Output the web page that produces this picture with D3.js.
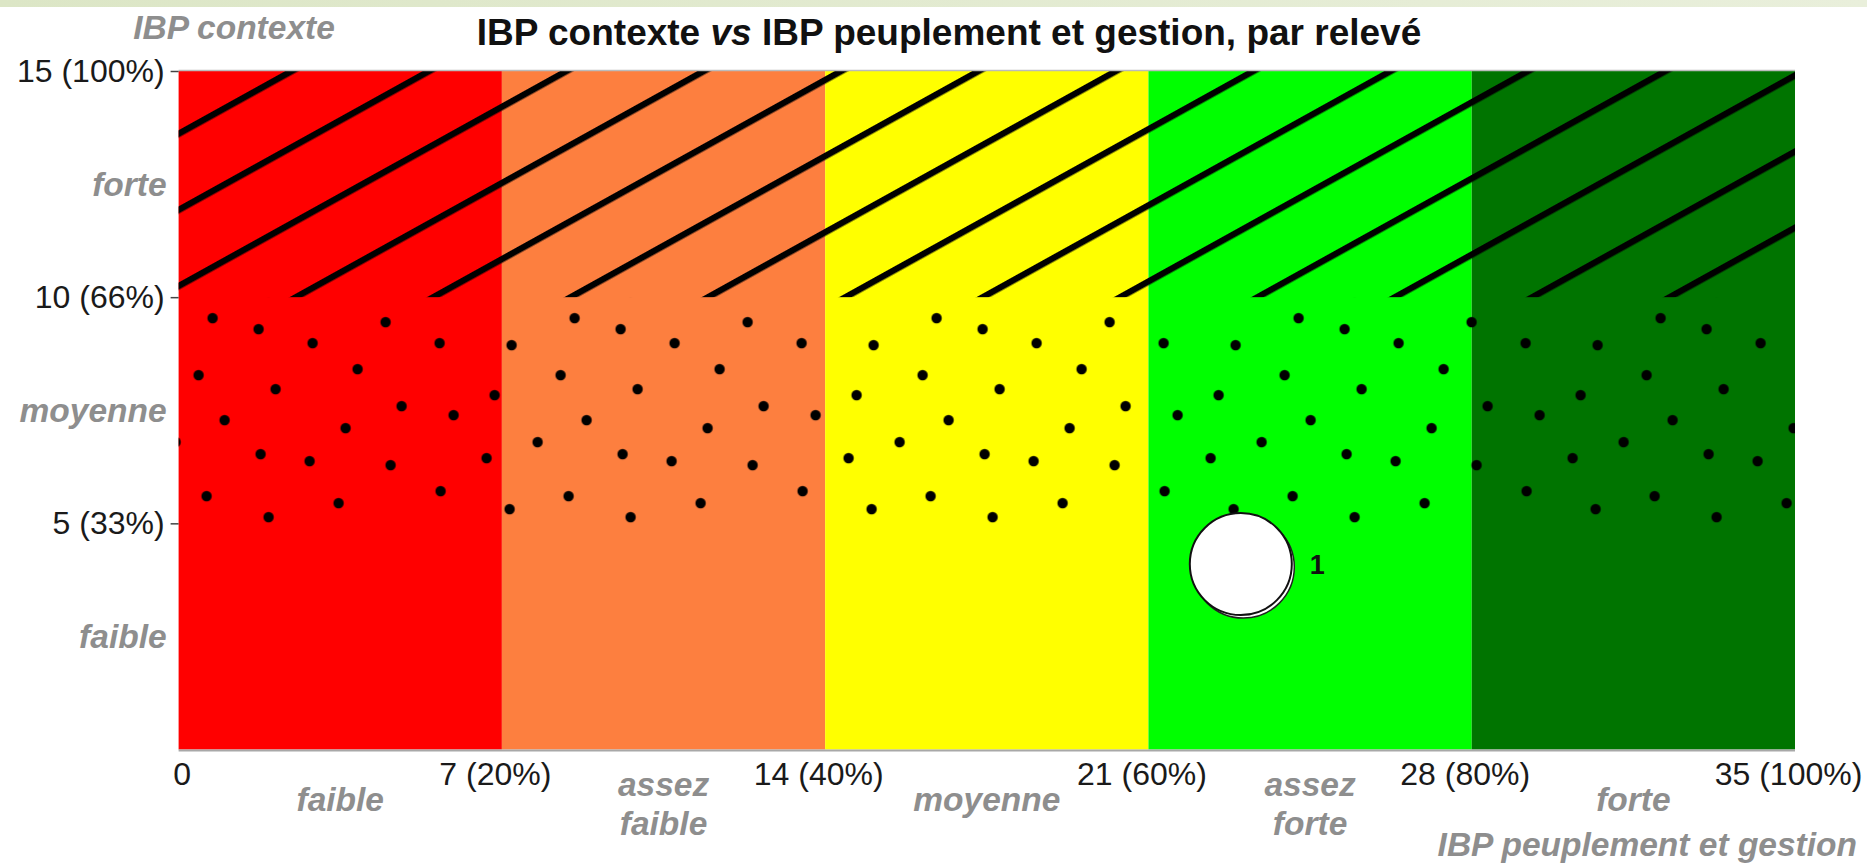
<!DOCTYPE html>
<html>
<head>
<meta charset="utf-8">
<script src="https://cdn.jsdelivr.net/npm/d3@7"></script>
<style>
  body { margin: 0; background: #fff; overflow: hidden; }
  text { font-family: "Liberation Sans", Arial, sans-serif; }
</style>
</head>
<body>
<div id="chart-area"></div>
<script>
// axis ticks
var xTicks = [0, 7, 14, 21, 28, 35];
var xTickLabels = ["0", "7 (20%)", "14 (40%)", "21 (60%)", "28 (80%)", "35 (100%)"];
var yTicks = [5, 10, 15];
var yTickLabels = ["5 (33%)", "10 (66%)", "15 (100%)"];

// IBP peuplement et gestion classes (x)
var peuplementBounds = [0, 7, 14, 21, 28, 35];
var peuplementClasses = [["faible"], ["assez", "faible"], ["moyenne"], ["assez", "forte"], ["forte"]];
var peuplementColors = ["#ff0000", "#fd7f3f", "#ffff00", "#00ff00", "#007400"];

// IBP contexte classes (y)
var contexteBounds = [0, 5, 10, 15];
var contexteClasses = ["faible", "moyenne", "forte"];
var contexteTextures = ["none", "url(#dots)", "url(#hatch)"];

// relevés
var releves = [{ peuplement: 23, contexte: 4.1, n: 1 }];

var W = 1867, H = 863;
var margin = { left: 178.6, right: 72, top: 71, bottom: 113.5 };
var width = W - margin.left - margin.right;
var height = H - margin.top - margin.bottom;

var svg = d3
  .select("#chart-area")
  .append("svg")
  .attr("width", W)
  .attr("height", H);

var x = d3.scaleLinear().domain([0, 35]).range([0, width]);
var y = d3.scaleLinear().domain([0, 15]).range([height, 0]);

/*---- textures ----*/
var defs = svg.append("defs");

var band = defs.append("linearGradient").attr("id", "band");
band.append("stop").attr("offset", "0%").attr("stop-color", "#dce6c6");
band.append("stop").attr("offset", "100%").attr("stop-color", "#e9efdb");

var hatch = defs
  .append("pattern")
  .attr("id", "hatch")
  .attr("patternUnits", "userSpaceOnUse")
  .attr("width", 60)
  .attr("height", 66.6)
  .attr("patternTransform", "translate(" + (x(0) + 113.4) + "," + y(15) + ") rotate(-29) translate(0,-3.2)");
hatch.append("rect").attr("width", 60).attr("height", 6.4).attr("fill", "#000");

var dotTile = {
  w: 362,
  h: 226,
  r: 5.2,
  dots: [
    [34, 21], [80, 32], [207, 25], [134, 46], [261, 46], [333, 48],
    [20, 78], [179, 72], [97, 92], [316, 98], [223, 109], [275, 118],
    [46, 123], [167, 131], [359, 145], [82, 157], [131, 164], [212, 168],
    [308, 161], [262, 194], [28, 199], [160, 206], [331, 212], [90, 220]
  ]
};
var dots = defs
  .append("pattern")
  .attr("id", "dots")
  .attr("patternUnits", "userSpaceOnUse")
  .attr("width", dotTile.w)
  .attr("height", dotTile.h)
  .attr("patternTransform", "translate(0," + y(10) + ")");
dotTile.dots.forEach(function (d) {
  [-dotTile.w, 0, dotTile.w].forEach(function (off) {
    dots
      .append("circle")
      .attr("cx", d[0] + off)
      .attr("cy", d[1])
      .attr("r", dotTile.r)
      .attr("fill", "#000");
  });
});

svg.append("rect").attr("width", W).attr("height", 7).attr("fill", "url(#band)");

var g = svg
  .append("g")
  .attr("transform", "translate(" + margin.left + "," + margin.top + ")");

/*---- colour columns ----*/
g.selectAll(".col")
  .data(peuplementColors)
  .enter()
  .append("rect")
  .attr("class", "col")
  .attr("x", function (d, i) { return x(peuplementBounds[i]); })
  .attr("width", function (d, i) { return x(peuplementBounds[i + 1]) - x(peuplementBounds[i]); })
  .attr("y", 0)
  .attr("height", height)
  .attr("fill", function (d) { return d; });

/*---- contexte textures ----*/
g.selectAll(".zone")
  .data(contexteTextures)
  .enter()
  .append("rect")
  .attr("class", "zone")
  .attr("x", 0)
  .attr("width", width)
  .attr("y", function (d, i) { return y(contexteBounds[i + 1]); })
  .attr("height", function (d, i) { return y(contexteBounds[i]) - y(contexteBounds[i + 1]); })
  .attr("fill", function (d) { return d; });

// frame lines
g.append("line").attr("x1", 0).attr("x2", width).attr("y1", height + 1).attr("y2", height + 1)
  .attr("stroke", "#a8a8a8").attr("stroke-width", 2);
g.append("line").attr("x1", 0).attr("x2", width).attr("y1", -0.5).attr("y2", -0.5)
  .attr("stroke", "#bbb").attr("stroke-width", 1.5);

/*---- axes ----*/
var xAxis = d3.axisBottom(x)
  .tickValues(xTicks)
  .tickSize(0)
  .tickPadding(13)
  .tickFormat(function (d, i) { return xTickLabels[i]; });
var gx = g.append("g").attr("transform", "translate(0," + height + ")").call(xAxis);
gx.select(".domain").remove();
gx.selectAll("text")
  .attr("font-family", "Liberation Sans, Arial, sans-serif")
  .attr("font-size", 32)
  .attr("dx", -7)
  .attr("fill", "#1a1a1a");
gx.selectAll(".tick").filter(function (d) { return d === 0; }).select("text").attr("dx", 3);

var yAxis = d3.axisLeft(y)
  .tickValues(yTicks)
  .tickSize(8)
  .tickPadding(6)
  .tickFormat(function (d, i) { return yTickLabels[i]; });
var gy = g.append("g").call(yAxis);
gy.select(".domain").remove();
gy.selectAll("line").attr("stroke", "#444").attr("stroke-width", 1.5);
gy.selectAll("text")
  .attr("font-family", "Liberation Sans, Arial, sans-serif")
  .attr("font-size", 32)
  .attr("fill", "#1a1a1a");

/*---- class labels ----*/
var grey = "#8e8e8e";
g.selectAll(".ylab")
  .data(contexteClasses)
  .enter()
  .append("text")
  .attr("class", "ylab")
  .attr("x", -12)
  .attr("y", function (d, i) { return y((contexteBounds[i] + contexteBounds[i + 1]) / 2); })
  .attr("dy", "0.35em")
  .attr("text-anchor", "end")
  .attr("font-size", 33.5)
  .attr("font-weight", "bold")
  .attr("font-style", "italic")
  .attr("fill", grey)
  .text(function (d) { return d; });

var xl = g.selectAll(".xlab")
  .data(peuplementClasses)
  .enter()
  .append("text")
  .attr("class", "xlab")
  .attr("text-anchor", "middle")
  .attr("font-size", 33.5)
  .attr("font-weight", "bold")
  .attr("font-style", "italic")
  .attr("fill", grey)
  .attr("transform", function (d, i) {
    var cx = x((peuplementBounds[i] + peuplementBounds[i + 1]) / 2);
    return "translate(" + cx + "," + (height + (d.length > 1 ? 46 : 61)) + ")";
  });
xl.selectAll("tspan")
  .data(function (d) { return d; })
  .enter()
  .append("tspan")
  .attr("x", 0)
  .attr("dy", function (d, i) { return i === 0 ? 0 : 39; })
  .text(function (d) { return d; });

/*---- titles ----*/
svg.append("text")
  .attr("x", 949)
  .attr("y", 45)
  .attr("text-anchor", "middle")
  .attr("font-size", 37)
  .attr("font-weight", "bold")
  .attr("fill", "#111")
  .selectAll("tspan")
  .data([["IBP contexte ", "normal"], ["vs", "italic"], [" IBP peuplement et gestion, par relevé", "normal"]])
  .enter()
  .append("tspan")
  .attr("font-style", function (d) { return d[1]; })
  .text(function (d) { return d[0]; });

svg.append("text")
  .attr("x", 234)
  .attr("y", 39)
  .attr("text-anchor", "middle")
  .attr("font-size", 33.5)
  .attr("font-weight", "bold")
  .attr("font-style", "italic")
  .attr("fill", grey)
  .text("IBP contexte");

svg.append("text")
  .attr("x", 1857)
  .attr("y", 856)
  .attr("text-anchor", "end")
  .attr("font-size", 33.5)
  .attr("font-weight", "bold")
  .attr("font-style", "italic")
  .attr("fill", grey)
  .text("IBP peuplement et gestion");

/*---- relevés (bubbles) ----*/
var r = d3.scaleSqrt().domain([0, 1]).range([0, 51]);
var pts = g.selectAll(".releve")
  .data(releves)
  .enter()
  .append("g")
  .attr("class", "releve")
  .attr("transform", function (d) { return "translate(" + x(d.peuplement) + "," + y(d.contexte) + ")"; });
pts.append("circle")
  .attr("cx", 2.5)
  .attr("cy", 3)
  .attr("r", function (d) { return r(d.n); })
  .attr("fill", "#fff")
  .attr("stroke", "#222")
  .attr("stroke-width", 1.5);
pts.append("circle")
  .attr("r", function (d) { return r(d.n); })
  .attr("fill", "#fff")
  .attr("stroke", "#111")
  .attr("stroke-width", 2);
pts.append("text")
  .attr("x", function (d) { return r(d.n) + 18; })
  .attr("dy", "0.36em")
  .attr("font-size", 27)
  .attr("font-weight", "bold")
  .attr("fill", "#111")
  .text(function (d) { return d.n; });
</script>
</body>
</html>
